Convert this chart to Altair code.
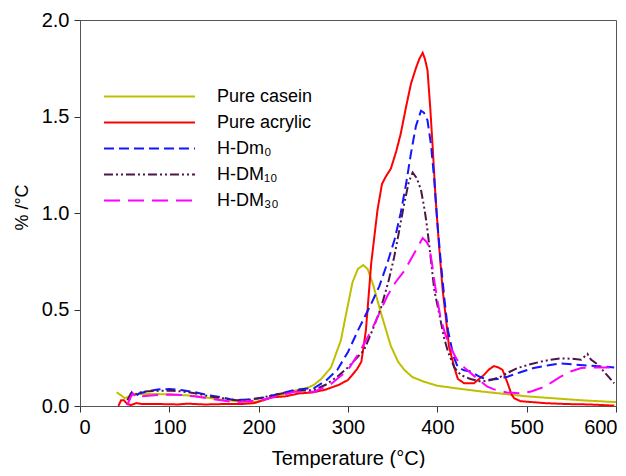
import altair as alt
import pandas as pd

series_names = ["Pure casein", "Pure acrylic", "H-Dm\u2080", "H-DM\u2081\u2080", "H-DM\u2083\u2080"]
series_colors = ["#BFBF00", "#FF0000", "#1515FF", "#4B1748", "#FF00FF"]
series_dashes = [[1, 0], [1, 0], [10, 5], [9, 3, 2, 3, 2, 3], [16, 8]]

casein_t = [41, 47, 50, 55, 60, 70, 85, 100, 120, 134, 148, 160, 175, 190, 198, 206, 216, 230, 243, 255, 262, 270, 281, 292, 298, 305, 311, 317, 322, 328, 337, 348, 356, 363, 372, 385, 400, 419, 450, 480, 500, 530, 560, 600]
casein_v = [0.071, 0.052, 0.04, 0.05, 0.062, 0.062, 0.062, 0.06, 0.055, 0.048, 0.04, 0.031, 0.026, 0.022, 0.022, 0.03, 0.048, 0.065, 0.083, 0.095, 0.11, 0.14, 0.2, 0.34, 0.48, 0.64, 0.71, 0.73, 0.71, 0.63, 0.48, 0.31, 0.23, 0.187, 0.15, 0.126, 0.105, 0.093, 0.075, 0.06, 0.05, 0.04, 0.03, 0.02]

acrylic_t = [43, 46, 49, 53, 57, 63, 70, 90, 110, 120, 140, 160, 180, 195, 205, 215, 230, 245, 260, 275, 290, 300, 310, 315, 320, 326, 333, 338, 342.5, 348, 354, 359, 365, 370.5, 376, 380, 383.6, 386, 389, 392, 394.8, 398, 402, 406, 409.7, 413, 419, 423, 430, 441, 452, 458, 463.5, 468, 473, 478.7, 483, 486, 493, 501, 520, 546, 570, 598]
acrylic_v = [0.0, 0.03, 0.03, 0.01, 0.005, 0.015, 0.01, 0.01, 0.008, 0.012, 0.008, 0.01, 0.01, 0.015, 0.03, 0.045, 0.05, 0.065, 0.07, 0.085, 0.11, 0.135, 0.19, 0.23, 0.39, 0.74, 1.015, 1.15, 1.19, 1.23, 1.32, 1.41, 1.55, 1.67, 1.75, 1.8, 1.83, 1.8, 1.74, 1.55, 1.34, 1.08, 0.825, 0.6, 0.45, 0.31, 0.2, 0.14, 0.118, 0.118, 0.16, 0.19, 0.207, 0.2, 0.187, 0.118, 0.06, 0.04, 0.025, 0.022, 0.015, 0.01, 0.008, 0.002]

dm0_t = [55, 58, 62, 66, 75, 87, 100, 113, 128, 143, 158, 172, 185, 202, 220, 240, 262, 275, 288, 300, 311, 326, 335, 344, 352, 359, 365, 370.5, 376, 381.7, 385, 389, 393, 396.6, 400, 404, 408, 412, 418, 423, 430, 437.7, 446, 456, 467, 478.7, 493, 508, 523, 538, 553, 568, 583, 598]
dm0_v = [0.03, 0.07, 0.05, 0.065, 0.075, 0.086, 0.088, 0.083, 0.072, 0.057, 0.045, 0.031, 0.033, 0.04, 0.06, 0.083, 0.093, 0.13, 0.187, 0.28, 0.39, 0.53, 0.62, 0.74, 0.86, 1.0, 1.15, 1.31, 1.45, 1.53, 1.52, 1.48, 1.35, 1.17, 0.95, 0.74, 0.55, 0.39, 0.26, 0.2, 0.185, 0.178, 0.155, 0.135, 0.14, 0.152, 0.175, 0.197, 0.21, 0.22, 0.215, 0.21, 0.205, 0.2]

dm10_t = [53, 57, 62, 70, 85, 100, 115, 130, 145, 160, 175, 190, 205, 220, 240, 262, 275, 288, 300, 318, 328, 337, 345, 351.6, 357, 363, 368, 372.4, 377, 381.7, 386, 389, 393, 396.6, 402, 407.7, 412, 419, 426.5, 437, 449, 460, 471, 480, 490, 503, 516, 527, 538, 550, 561, 568, 572, 578, 583, 590, 598]
dm10_v = [0.03, 0.065, 0.06, 0.075, 0.078, 0.08, 0.075, 0.065, 0.05, 0.04, 0.03, 0.033, 0.045, 0.06, 0.078, 0.083, 0.11, 0.152, 0.2, 0.29, 0.4, 0.51, 0.64, 0.77, 0.9, 1.05, 1.16, 1.21, 1.18, 1.12, 1.01, 0.91, 0.75, 0.6, 0.48, 0.35, 0.28, 0.2, 0.16, 0.14, 0.126, 0.135, 0.152, 0.175, 0.197, 0.215, 0.23, 0.24, 0.247, 0.245, 0.24, 0.27, 0.24, 0.22, 0.197, 0.16, 0.118]

dm30_t = [53, 56, 59, 63, 68, 80, 90, 100, 113, 128, 143, 158, 172, 188, 203, 220, 240, 262, 280, 300, 313, 326, 335, 344, 353, 363, 374, 380, 383.6, 388, 391, 394, 396.6, 400, 404, 409, 415, 422, 430, 440, 449, 456, 463.5, 478, 494, 505, 516, 527, 538, 550, 561, 575, 590, 598]
dm30_v = [0.005, 0.04, 0.065, 0.045, 0.05, 0.055, 0.057, 0.06, 0.057, 0.05, 0.04, 0.03, 0.02, 0.025, 0.03, 0.05, 0.074, 0.074, 0.11, 0.187, 0.28, 0.39, 0.48, 0.57, 0.64, 0.7, 0.79, 0.84, 0.87, 0.85, 0.825, 0.74, 0.65, 0.55, 0.45, 0.37, 0.3, 0.24, 0.2, 0.16, 0.126, 0.1, 0.086, 0.07, 0.066, 0.075, 0.093, 0.12, 0.152, 0.18, 0.197, 0.2, 0.2, 0.2]

x_ticks = [0, 100, 200, 300, 400, 500, 600]
y_ticks = [0.0, 0.5, 1.0, 1.5, 2.0]

all_t = [casein_t, acrylic_t, dm0_t, dm10_t, dm30_t]
all_v = [casein_v, acrylic_v, dm0_v, dm10_v, dm30_v]

rows = []
for i, name in enumerate(series_names):
    for t, v in zip(all_t[i], all_v[i]):
        rows.append({"series": name, "T": t, "v": v, "idx": i})
df = pd.DataFrame(rows)

FONT = "Liberation Sans"

legend = alt.Legend(
    title=None,
    orient="none",
    legendX=57,
    legendY=64,
    padding=0,
    symbolType="M-4,0L4,0",
    symbolSize=518,
    symbolStrokeWidth=2,
    labelFontSize=18,
    labelFont=FONT,
    labelColor="black",
    labelOffset=55,
    rowPadding=4,
)

chart = alt.Chart(df).mark_line(strokeWidth=2).encode(
    x=alt.X("T:Q", scale=alt.Scale(domain=[0, 600], nice=False),
            axis=alt.Axis(title="Temperature (\u00b0C)", values=x_ticks, labelFlush=True,
                          labelFlushOffset=1,
                          titleY=58, titleBaseline="alphabetic")),
    y=alt.Y("v:Q", scale=alt.Scale(domain=[0, 2], nice=False),
            axis=alt.Axis(title="% /\u00b0C", values=y_ticks, format=".1f",
                          titleX=-53, titleY=187, titleBaseline="alphabetic", titleAngle=-90)),
    color=alt.Color("series:N", scale=alt.Scale(domain=series_names, range=series_colors), legend=legend),
    strokeDash=alt.StrokeDash("series:N", scale=alt.Scale(domain=series_names, range=series_dashes), legend=legend),
    order="T:Q",
).properties(
    width=536,
    height=386,
    autosize=alt.AutoSizeParams(type="none"),
    padding={"left": 72, "top": 12, "right": 2, "bottom": 62},
).configure_view(
    stroke="#555555", strokeWidth=1
).configure_axis(
    grid=False,
    domainColor="#555555",
    tickColor="#333333",
    tickSize=6,
    labelFont=FONT,
    labelFontSize=20,
    labelColor="black",
    labelPadding=5,
    titleFont=FONT,
    titleFontSize=20,
    titleColor="black",
    titleFontWeight="normal",
).configure_axisY(
    titleFontSize=18,
)

chart.save("out.html", embed_options={"renderer": "svg", "actions": False})
